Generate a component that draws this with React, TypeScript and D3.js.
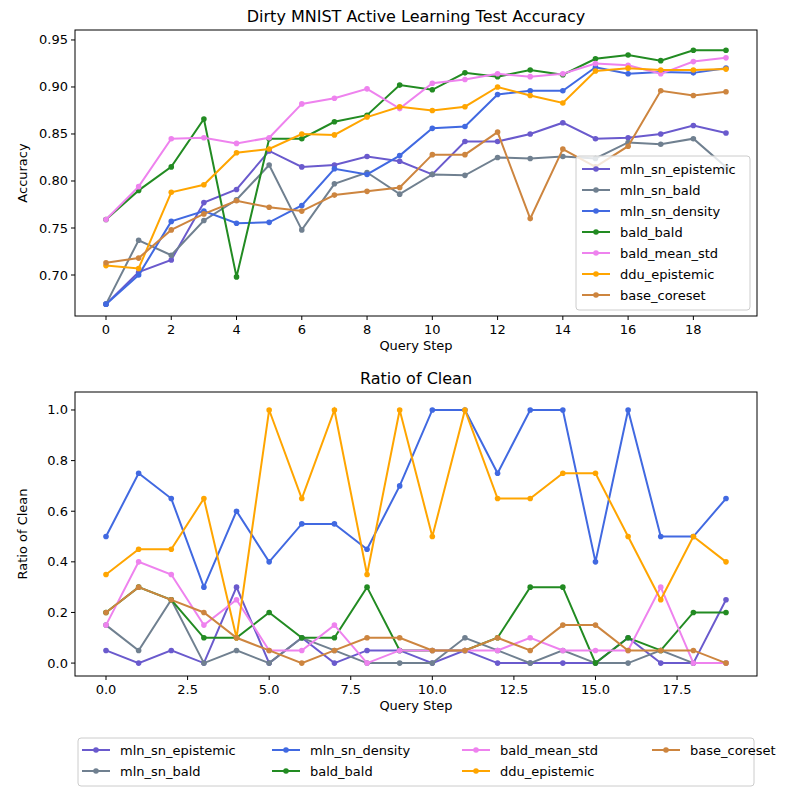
import React from "react";
import * as d3 from "d3";

const steps = d3.range(20);
const names = ["mln_sn_epistemic","mln_sn_bald","mln_sn_density","bald_bald","bald_mean_std","ddu_epistemic","base_coreset"];
const colors = ["#6a5acd","#708090","#4169e1","#228b22","#ee82ee","#ffa500","#cd853f"];

const accEpistemic = [0.669,0.703,0.716,0.777,0.791,0.832,0.815,0.817,0.826,0.821,0.807,0.842,0.842,0.850,0.862,0.845,0.846,0.850,0.859,0.851];
const accBald = [0.669,0.737,0.721,0.758,0.780,0.817,0.748,0.797,0.809,0.786,0.807,0.806,0.825,0.824,0.826,0.824,0.841,0.839,0.845,0.815];
const accDensity = [0.669,0.700,0.757,0.768,0.755,0.756,0.774,0.813,0.807,0.827,0.856,0.858,0.892,0.896,0.896,0.921,0.914,0.916,0.915,0.920];
const accBaldBald = [0.759,0.790,0.815,0.866,0.698,0.845,0.845,0.863,0.870,0.902,0.897,0.915,0.911,0.918,0.913,0.930,0.934,0.928,0.939,0.939];
const accMeanStd = [0.759,0.794,0.845,0.846,0.840,0.846,0.882,0.888,0.898,0.877,0.904,0.908,0.914,0.911,0.914,0.925,0.923,0.914,0.927,0.931];
const accDdu = [0.710,0.707,0.788,0.796,0.830,0.834,0.850,0.849,0.868,0.879,0.875,0.879,0.900,0.891,0.883,0.917,0.920,0.918,0.918,0.919];
const accCoreset = [0.713,0.718,0.748,0.765,0.779,0.772,0.768,0.785,0.789,0.793,0.828,0.828,0.852,0.760,0.834,0.815,0.837,0.896,0.891,0.895];

const cleanEpistemic = [0.05,0,0.05,0,0.3,0,0.1,0,0.05,0.05,0,0.05,0,0,0,0,0.1,0,0,0.25];
const cleanBald = [0.15,0.05,0.25,0,0.05,0,0.1,0.05,0,0,0,0.1,0.05,0,0.05,0,0,0.05,0,0];
const cleanDensity = [0.5,0.75,0.65,0.3,0.6,0.4,0.55,0.55,0.45,0.7,1,1,0.75,1,1,0.4,1,0.5,0.5,0.65];
const cleanBaldBald = [0.2,0.3,0.25,0.1,0.1,0.2,0.1,0.1,0.3,0.05,0.05,0.05,0.1,0.3,0.3,0,0.1,0.05,0.2,0.2];
const cleanMeanStd = [0.15,0.4,0.35,0.15,0.25,0.05,0.05,0.15,0,0.05,0.05,0.05,0.05,0.1,0.05,0.05,0.05,0.3,0,0];
const cleanDdu = [0.35,0.45,0.45,0.65,0.1,1,0.65,1,0.35,1,0.5,1,0.65,0.65,0.75,0.75,0.5,0.25,0.5,0.4];
const cleanCoreset = [0.2,0.3,0.25,0.2,0.1,0.05,0,0.05,0.1,0.1,0.05,0.05,0.1,0.05,0.15,0.15,0.05,0.05,0.05,0];

const accSeries = [accEpistemic,accBald,accDensity,accBaldBald,accMeanStd,accDdu,accCoreset];
const cleanSeries = [cleanEpistemic,cleanBald,cleanDensity,cleanBaldBald,cleanMeanStd,cleanDdu,cleanCoreset];

const topXTicks = [0,2,4,6,8,10,12,14,16,18];
const topYTicks = [0.70,0.75,0.80,0.85,0.90,0.95];
const botXTicks = [0,2.5,5,7.5,10,12.5,15,17.5];
const botYTicks = [0,0.2,0.4,0.6,0.8,1.0];

const FONT = "DejaVu Sans, sans-serif";

function Panel({ top, bottom, yDomain, series, xTicks, yTicks, xFmt, yFmt, title, ylabel }: any) {
  const left = 75, right = 757;
  const x = d3.scaleLinear().domain([-0.95, 19.95]).range([left, right]);
  const y = d3.scaleLinear().domain(yDomain).range([bottom, top]);
  const line = (vals: number[]) => d3.line<number>().x((_, i) => x(steps[i])).y(v => y(v))(vals) || "";
  return (
    <g>
      <text x={(left + right) / 2} y={top - 8} textAnchor="middle" fontSize={16}>{title}</text>
      {series.map((s: number[], k: number) => (
        <g key={k}>
          <path d={line(s)} fill="none" stroke={colors[k]} strokeWidth={2} />
          {s.map((v, i) => <circle key={i} cx={x(steps[i])} cy={y(v)} r={2.8} fill={colors[k]} />)}
        </g>
      ))}
      <rect x={left} y={top} width={right - left} height={bottom - top} fill="none" stroke="black" strokeWidth={1} />
      {xTicks.map((t: number) => (
        <g key={t}>
          <line x1={x(t)} x2={x(t)} y1={bottom} y2={bottom + 4} stroke="black" />
          <text x={x(t)} y={bottom + 18} textAnchor="middle" fontSize={13}>{xFmt(t)}</text>
        </g>
      ))}
      {yTicks.map((t: number) => (
        <g key={t}>
          <line x1={left - 4} x2={left} y1={y(t)} y2={y(t)} stroke="black" />
          <text x={left - 7} y={y(t) + 4.5} textAnchor="end" fontSize={13}>{yFmt(t)}</text>
        </g>
      ))}
      <text x={(left + right) / 2} y={bottom + 34} textAnchor="middle" fontSize={13}>Query Step</text>
      <text transform={`translate(${left - 48},${(top + bottom) / 2}) rotate(-90)`} textAnchor="middle" fontSize={13}>{ylabel}</text>
    </g>
  );
}

function LegendItem({ k, x, y }: any) {
  return (
    <g>
      <line x1={x} x2={x + 28} y1={y} y2={y} stroke={colors[k]} strokeWidth={2} />
      <circle cx={x + 14} cy={y} r={2.8} fill={colors[k]} />
      <text x={x + 38} y={y + 4.5} fontSize={13}>{names[k]}</text>
    </g>
  );
}

export default function App() {
  const colPos = [82, 272, 462, 652];
  const order = [0, 1, 2, 3, 4, 5, 6];
  return (
    <svg width={800} height={800} style={{ position: "absolute", left: 0, top: 0, fontFamily: FONT }} fontFamily={FONT}>
      <rect width={800} height={800} fill="white" />
      <Panel top={30} bottom={316} yDomain={[0.6564, 0.9606]} series={accSeries} xTicks={topXTicks} yTicks={topYTicks}
        xFmt={(t: number) => String(t)} yFmt={(t: number) => t.toFixed(2)} title="Dirty MNIST Active Learning Test Accuracy" ylabel="Accuracy" />
      <Panel top={392} bottom={676} yDomain={[-0.051, 1.071]} series={cleanSeries} xTicks={botXTicks} yTicks={botYTicks}
        xFmt={(t: number) => t.toFixed(1)} yFmt={(t: number) => t.toFixed(1)} title="Ratio of Clean" ylabel="Ratio of Clean" />
      <rect x={576} y={156} width={174} height={154} rx={3} fill="white" fillOpacity={0.8} stroke="#ccc" />
      {order.map(k => <LegendItem key={k} k={k} x={582} y={169 + k * 21} />)}
      <rect x={78} y={738} width={676} height={48} rx={3} fill="white" stroke="#ccc" />
      {order.map(k => <LegendItem key={k} k={k} x={colPos[Math.floor(k / 2)]} y={750 + (k % 2) * 21} />)}
    </svg>
  );
}
